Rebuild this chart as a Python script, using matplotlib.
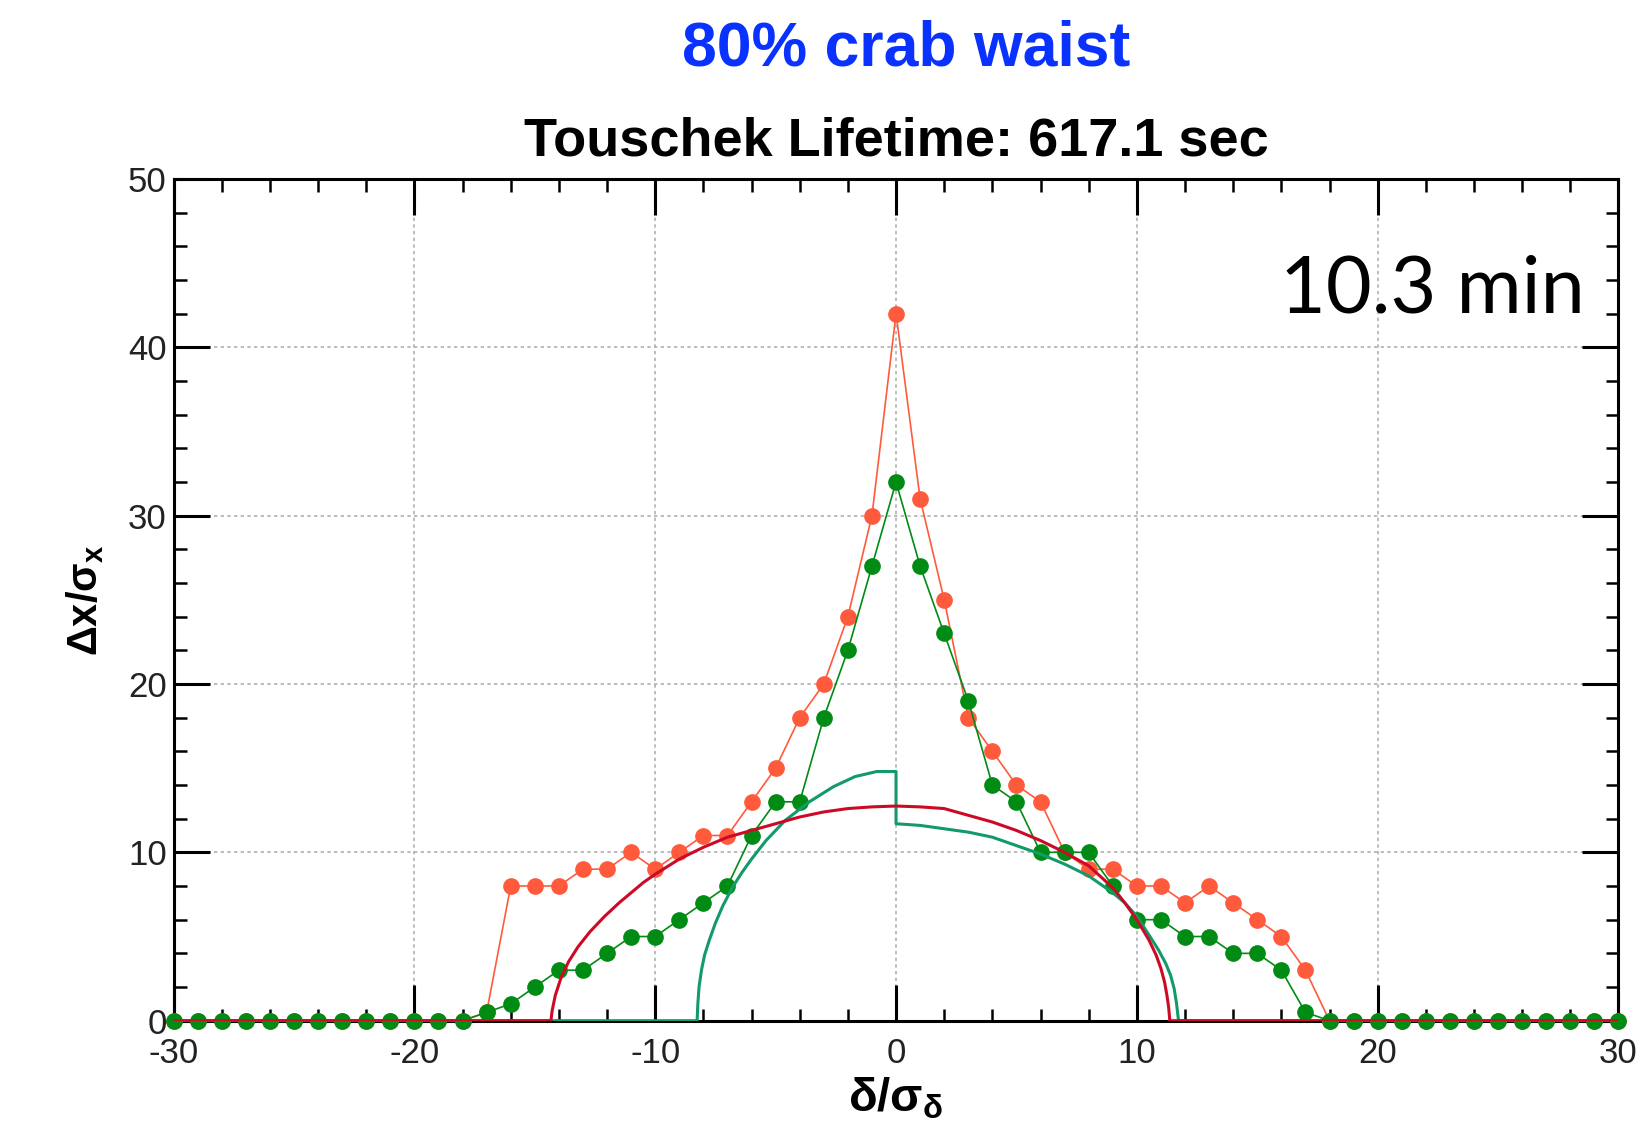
import matplotlib
matplotlib.use("Agg")
import matplotlib.pyplot as plt
from matplotlib.ticker import MultipleLocator

plt.rcParams['font.family'] = ['Liberation Sans', 'DejaVu Sans']
plt.rcParams['axes.unicode_minus'] = False
plt.rcParams['mathtext.fontset'] = 'custom'
plt.rcParams['mathtext.bf'] = 'Liberation Sans:bold'
plt.rcParams['mathtext.rm'] = 'Liberation Sans'
plt.rcParams['mathtext.it'] = 'Liberation Sans:italic'

# ---- data ----
delta = list(range(-30, 31))
red_dots = [0]*13 + [0.5, 8, 8, 8, 9, 9, 10, 9, 10, 11, 11, 13, 15, 18, 20, 24, 30,
                     42, 31, 25, 18, 16, 14, 13, 10, 9, 9, 8, 8, 7, 8, 7, 6, 5, 3] + [0]*13
green_dots = [0]*13 + [0.5, 1, 2, 3, 3, 4, 5, 5, 6, 7, 8, 11, 13, 13, 18, 22, 27,
                       32, 27, 23, 19, 14, 13, 10, 10, 10, 8, 6, 6, 5, 5, 4, 4, 3, 0.5] + [0]*13

red_curve_x = [-30, -14.33, -14.28, -14.15, -13.9, -13.6, -13.2, -12.7, -12.1, -11.5,
               -11.0, -10.5, -10.0, -9.0, -8.0, -7.0, -6.0, -5.0, -4.0, -3.0, -2.0,
               -1.0, 0.0, 1.0, 2.0, 3.0, 4.0, 5.0, 6.0, 7.0, 8.0, 9.0, 9.5, 10.0, 10.5,
               10.8, 11.0, 11.15, 11.25, 11.32, 11.37, 30]
red_curve_y = [0, 0, 0.6, 1.5, 2.6, 3.5, 4.4, 5.3, 6.2, 7.0, 7.6, 8.2, 8.7, 9.6, 10.3,
               10.9, 11.3, 11.7, 12.1, 12.4, 12.6, 12.7, 12.75, 12.7, 12.6, 12.2, 11.8,
               11.3, 10.7, 10.0, 9.2, 7.9, 7.0, 6.0, 4.8, 3.9, 3.1, 2.3, 1.5, 0.8, 0, 0]

teal_curve_x = [-30, -8.26, -8.23, -8.18, -8.08, -7.95, -7.75, -7.5, -7.2, -6.8, -6.4,
                -6.0, -5.4, -4.6, -3.6, -2.6, -1.7, -0.8, 0.0, 0.0, 1.0, 2.0, 3.0, 4.0,
                5.0, 6.0, 7.0, 8.0, 9.0, 9.5, 10.0, 10.5, 10.9, 11.2, 11.4, 11.55,
                11.65, 11.73, 30]
teal_curve_y = [0, 0, 1.0, 2.0, 3.0, 3.9, 4.8, 5.8, 6.8, 7.9, 8.8, 9.6, 10.7, 11.9, 13.0,
                13.9, 14.5, 14.8, 14.8, 11.7, 11.6, 11.4, 11.2, 10.9, 10.4, 9.9, 9.3,
                8.6, 7.6, 7.0, 6.2, 5.1, 4.2, 3.4, 2.7, 1.9, 1.0, 0, 0]

xticks = [-30, -20, -10, 0, 10, 20, 30]
xtick_labels = ["-30", "-20", "-10", "0", "10", "20", "30"]
yticks = [0, 10, 20, 30, 40, 50]
ytick_labels = ["0", "10", "20", "30", "40", "50"]

# ---- figure ----
fig = plt.figure(figsize=(16.5, 11.35), dpi=100)
ax = fig.add_axes([0.1052, 0.1007, 0.8757, 0.7417])

ax.plot(delta, red_dots, '-o', color='#ff5a3c', lw=1.2, ms=11, mec='#ff5a3c',
        zorder=3, clip_on=False)
ax.plot(delta, green_dots, '-o', color='#008c14', lw=1.2, ms=11, mec='#008c14',
        zorder=4, clip_on=False)
ax.plot(teal_curve_x, teal_curve_y, '-', color='#129a68', lw=2.2, zorder=5)
ax.plot(red_curve_x, red_curve_y, '-', color='#cc0a26', lw=2.2, zorder=5)

ax.set_xlim(-30, 30)
ax.set_ylim(0, 50)
ax.set_xticks(xticks)
ax.set_xticklabels(xtick_labels)
ax.set_yticks(yticks)
ax.set_yticklabels(ytick_labels)
ax.xaxis.set_minor_locator(MultipleLocator(2))
ax.yaxis.set_minor_locator(MultipleLocator(2))
ax.tick_params(which='both', direction='in', top=True, right=True, colors='black')
ax.tick_params(which='major', length=26, width=2.2)
ax.tick_params(which='minor', length=9, width=1.8)
ax.tick_params(axis='x', which='major', labelsize=25, pad=12, labelcolor='#222222')
ax.tick_params(axis='y', which='major', labelsize=25, pad=5, labelcolor='#222222')
for s in ax.spines.values():
    s.set_linewidth(2.2)
    s.set_color('black')

ax.grid(True, which='major', color='#b0b0b0', lw=1.2, linestyle=(0, (2, 2)), zorder=0)
ax.set_axisbelow(True)

ax.set_xlabel(r'$\mathbf{\delta/\sigma_{\delta}}$', fontsize=34, labelpad=4)
ax.set_ylabel(r'$\mathbf{\Delta x/\sigma_{x}}$', fontsize=30, labelpad=16)

ax.text(0.9768, 0.8407, '10.3 min', transform=ax.transAxes, ha='right', va='baseline',
        fontsize=57, family=['Lato', 'DejaVu Sans'], color='black', zorder=6)

fig.text(0.543, 1 - 156/1135, 'Touschek Lifetime: 617.1 sec', ha='center', va='baseline',
         fontsize=39, fontweight='bold', color='black')
fig.text(0.549, 1 - 66/1135, '80% crab waist', ha='center', va='baseline',
         fontsize=45, fontweight='bold', color='#0a32ff')

fig.savefig('out.png', dpi=100, facecolor='white')
